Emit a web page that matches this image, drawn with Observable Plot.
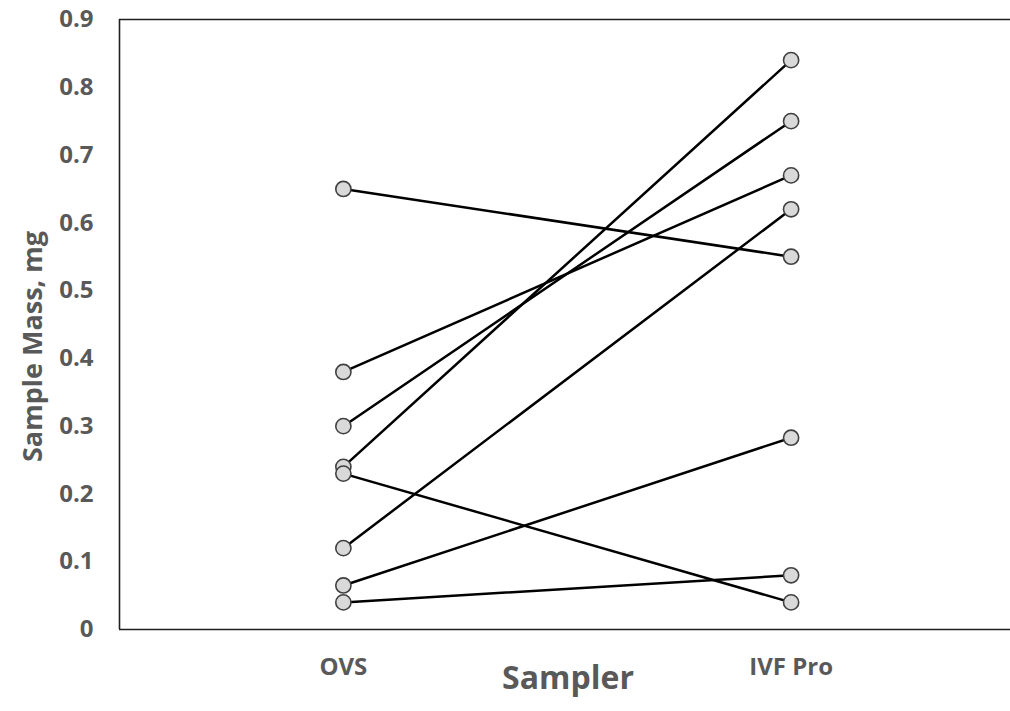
<!DOCTYPE html>
<html>
<head>
<meta charset="utf-8">
<script src="https://cdn.jsdelivr.net/npm/d3@7"></script>
<script src="https://cdn.jsdelivr.net/npm/@observablehq/plot@0.6"></script>
<style>
  html, body { margin: 0; padding: 0; background: #fff; }
  #chart svg text { font-family: "Open Sans", sans-serif; font-weight: bold; fill: #595959; }
</style>
</head>
<body>
<div id="chart"></div>
<script>
// Categories (samplers)
const samplers = ["OVS", "IVF Pro"];
// Paired sample masses (mg): each index is one paired sample
const ovsMass = [0.65, 0.38, 0.30, 0.24, 0.23, 0.12, 0.065, 0.04];
const ivfMass = [0.55, 0.67, 0.75, 0.84, 0.04, 0.62, 0.283, 0.08];
// Y tick values
const yTicks = [0, 0.1, 0.2, 0.3, 0.4, 0.5, 0.6, 0.7, 0.8, 0.9];
const yLabel = "Sample Mass, mg";
const xLabel = "Sampler";

const rows = [];
ovsMass.forEach((v, i) => {
  rows.push({pair: i, s: 0, mass: v});
  rows.push({pair: i, s: 1, mass: ivfMass[i]});
});
const dots = rows.slice().sort((a, b) => a.s - b.s || a.pair - b.pair);

const chart = Plot.plot({
  width: 1010,
  height: 711,
  marginTop: 19,
  marginBottom: 82,
  marginLeft: 119,
  marginRight: 0,
  x: {domain: [-0.5, 1.49]},
  y: {domain: [0, 0.9]},
  marks: [
    Plot.axisY({ticks: yTicks, tickSize: 0, tickPadding: 26, fontSize: 24, tickFormat: d3.format("~g"), label: null}),
    Plot.axisX({ticks: [0, 1], tickSize: 0, tickPadding: 28, fontSize: 24, tickFormat: i => samplers[i], label: null}),
    Plot.ruleY([0, 0.9], {stroke: "#1f1f1f", strokeWidth: 1.6}),
    Plot.ruleX([-0.5], {stroke: "#1f1f1f", strokeWidth: 1.6}),
    Plot.line(rows, {x: "s", y: "mass", z: "pair", stroke: "#000", strokeWidth: 2.5}),
    Plot.dot(dots, {x: "s", y: "mass", r: 7.6, fill: "#d9d9d9", stroke: "#404040", strokeWidth: 1.6}),
    Plot.text([yLabel], {frameAnchor: "left", textAnchor: "middle", dx: -86, dy: 22, rotate: -90, fontSize: 27, text: d => d}),
    Plot.text([xLabel], {frameAnchor: "bottom", textAnchor: "middle", dy: 59, dx: 3, fontSize: 32, text: d => d})
  ]
});
document.getElementById("chart").appendChild(chart);
</script>
</body>
</html>
